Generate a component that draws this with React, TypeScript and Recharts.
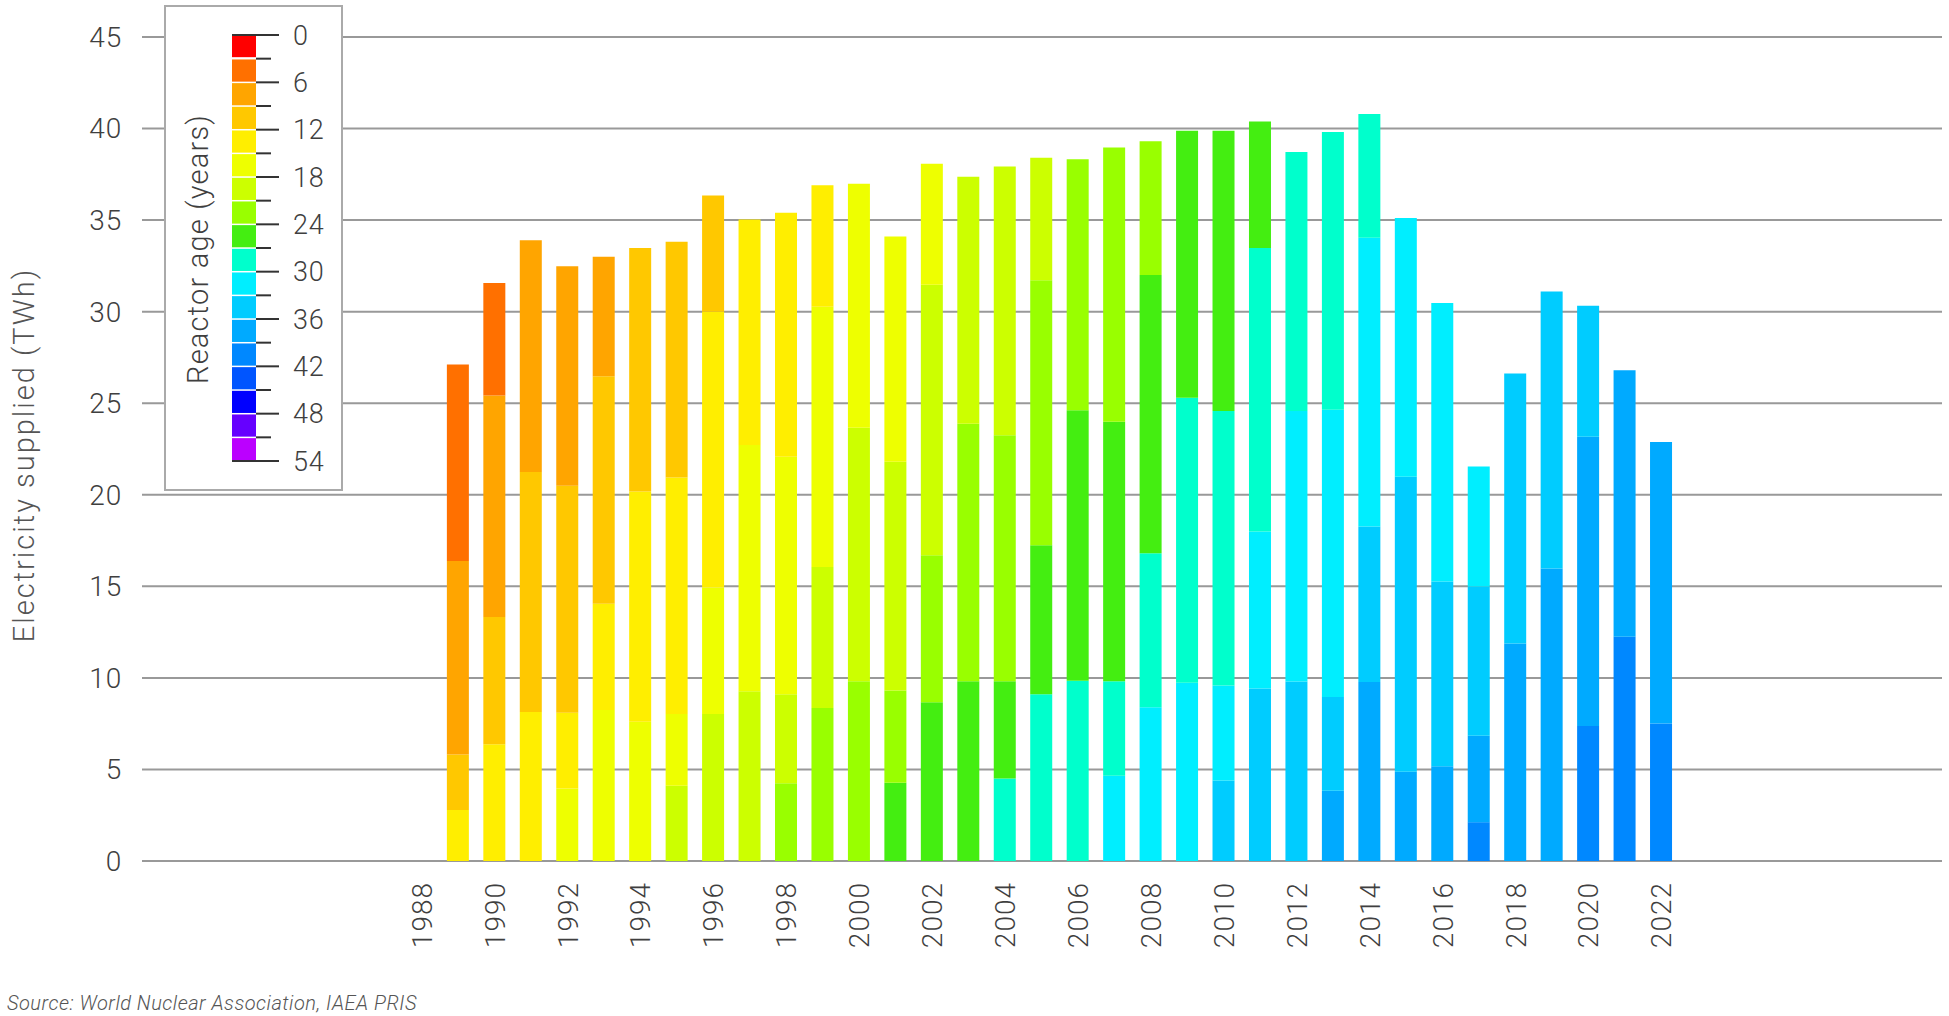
import React from "react"
import { BarChart, Bar, XAxis, YAxis, CartesianGrid } from "recharts"

// Years with a bar (1989–2022)
const years = [
  1989, 1990, 1991, 1992, 1993, 1994, 1995, 1996, 1997, 1998,
  1999, 2000, 2001, 2002, 2003, 2004, 2005, 2006, 2007, 2008,
  2009, 2010, 2011, 2012, 2013, 2014, 2015, 2016, 2017, 2018,
  2019, 2020, 2021, 2022,
]

// Reactor age bins (years) and their colours
const ageBins = [
  "0-3", "3-6", "6-9", "9-12", "12-15", "15-18", "18-21", "21-24", "24-27",
  "27-30", "30-33", "33-36", "36-39", "39-42", "42-45", "45-48", "48-51", "51-54",
]
const binColors = [
  "#ff0000", "#ff7000", "#ffa500", "#ffc800", "#ffee00", "#eeff00", "#ccff00", "#99ff00", "#44ee11",
  "#00ffcc", "#00eeff", "#00ccff", "#00aaff", "#0088ff", "#0055ff", "#0000ff", "#6600ff", "#bb00ff",
]
const colorbarLabels = [0, 6, 12, 18, 24, 30, 36, 42, 48, 54]

// TWh supplied per age bin, one value per year in `years`
const z10 = [0, 0, 0, 0, 0, 0, 0, 0, 0, 0]
const age0to3 = [...z10, ...z10, ...z10, 0, 0, 0, 0]
const age3to6 = [10.74, 6.14, 0, 0, 0, 0, 0, 0, 0, 0, ...z10, ...z10, 0, 0, 0, 0]
const age6to9 = [10.56, 12.1, 12.66, 11.99, 6.53, 0, 0, 0, 0, 0, ...z10, ...z10, 0, 0, 0, 0]
const age9to12 = [3.04, 6.94, 13.1, 12.4, 12.42, 13.3, 12.88, 6.34, 0, 0, ...z10, ...z10, 0, 0, 0, 0]
const age12to15 = [
  2.78, 6.38, 8.14, 4.13, 5.81, 12.58, 12.91, 15.07, 12.32, 13.33,
  6.63, 0, 0, 0, 0, 0, 0, 0, 0, 0,
  ...z10, 0, 0, 0, 0,
]
const age15to18 = [
  0, 0, 0, 3.96, 8.24, 7.6, 3.92, 6.9, 13.45, 12.97,
  14.21, 13.33, 12.3, 6.61, 0, 0, 0, 0, 0, 0,
  ...z10, 0, 0, 0, 0,
]
const age18to21 = [
  0, 0, 0, 0, 0, 0, 4.11, 8.03, 9.27, 4.86,
  7.71, 13.85, 12.49, 14.77, 13.49, 14.68, 6.69, 0, 0, 0,
  ...z10, 0, 0, 0, 0,
]
const age21to24 = [
  0, 0, 0, 0, 0, 0, 0, 0, 0, 4.24,
  8.35, 9.81, 5.03, 8.03, 14.07, 13.44, 14.48, 13.7, 14.98, 7.3,
  ...z10, 0, 0, 0, 0,
]
const age24to27 = [
  ...z10,
  0, 0, 4.28, 8.67, 9.81, 5.31, 8.14, 14.77, 14.18, 15.19,
  14.58, 15.31, 6.9, 0, 0, 0, 0, 0, 0, 0,
  0, 0, 0, 0,
]
const age27to30 = [
  ...z10,
  0, 0, 0, 0, 0, 4.5, 9.1, 9.85, 5.16, 8.42,
  15.56, 14.98, 15.49, 14.15, 15.16, 6.77, 0, 0, 0, 0,
  0, 0, 0, 0,
]
const age30to33 = [
  ...z10,
  0, 0, 0, 0, 0, 0, 0, 0, 4.65, 8.39,
  9.74, 5.2, 8.57, 14.77, 15.69, 15.76, 14.14, 15.2, 6.55, 0,
  0, 0, 0, 0,
]
const age33to36 = [
  ...z10, ...z10,
  0, 4.39, 9.42, 9.8, 5.12, 8.5, 16.11, 10.09, 8.15, 14.74,
  15.13, 7.15, 0, 0,
]
const age36to39 = [
  ...z10, ...z10,
  0, 0, 0, 0, 3.84, 9.77, 4.87, 5.18, 4.72, 11.88,
  15.97, 15.8, 14.56, 15.37,
]
const age39to42 = [
  ...z10, ...z10,
  0, 0, 0, 0, 0, 0, 0, 0, 2.12, 0,
  0, 7.37, 12.24, 7.51,
]
const age42to45 = [...z10, ...z10, ...z10, 0, 0, 0, 0]
const age45to48 = [...z10, ...z10, ...z10, 0, 0, 0, 0]
const age48to51 = [...z10, ...z10, ...z10, 0, 0, 0, 0]
const age51to54 = [...z10, ...z10, ...z10, 0, 0, 0, 0]

const binSeries = [
  age0to3, age3to6, age6to9, age9to12, age12to15, age15to18, age18to21, age21to24, age24to27,
  age27to30, age30to33, age33to36, age36to39, age39to42, age42to45, age45to48, age48to51, age51to54,
]

const yTicks = [0, 5, 10, 15, 20, 25, 30, 35, 40, 45]
const xTicks = [
  1988, 1990, 1992, 1994, 1996, 1998, 2000, 2002, 2004, 2006, 2008, 2010,
  2012, 2014, 2016, 2018, 2020, 2022,
]

const data = years.map((year, i) => {
  const row: Record<string, number> = { year }
  binSeries.forEach((s, b) => {
    row["b" + b] = s[i]
  })
  return row
})

const FONT = "Roboto, 'Liberation Sans', sans-serif"
const TEXT = "#3f3f3f"

const XTick = ({ x, y, payload }: any) => (
  <text
    x={x}
    y={y}
    transform={`rotate(-90 ${x} ${y})`}
    textAnchor="end"
    dy="0.36em"
    fontSize={28}
    fontWeight={300}
    letterSpacing={1}
    fontFamily={FONT}
    fill={TEXT}
  >
    {payload.value}
  </text>
)

// colour bar legend for reactor age
function ColorBar() {
  const top = 35
  const cell = (461 - 35) / ageBins.length
  return (
    <g>
      <rect x={165} y={6} width={177} height={484} fill="#fff" stroke="#aaa" strokeWidth={2} />
      <text
        x={208}
        y={249}
        transform="rotate(-90 208 249)"
        textAnchor="middle"
        fontSize={29}
        fontWeight={300}
        letterSpacing={1.2}
        fontFamily={FONT}
        fill={TEXT}
      >
        Reactor age (years)
      </text>
      {binColors.map((c, i) => (
        <rect key={c} x={232} y={top + i * cell + (i === 0 ? 0 : 0.8)} width={24} height={cell - 1.5} fill={c} />
      ))}
      {ageBins.map((_, i) => {
        const yy = top + i * cell
        const long = i % 2 === 0
        return <line key={i} x1={256} x2={long ? 279 : 271} y1={yy} y2={yy} stroke="#333" strokeWidth={2} />
      })}
      <line x1={232} x2={279} y1={top} y2={top} stroke="#333" strokeWidth={2} />
      <line x1={232} x2={279} y1={461} y2={461} stroke="#333" strokeWidth={2} />
      {colorbarLabels.map((v, i) => (
        <text
          key={v}
          x={293}
          y={top + i * 2 * cell}
          dy="0.36em"
          fontSize={27}
          fontWeight={300}
          letterSpacing={0.8}
          fontFamily={FONT}
          fill={TEXT}
        >
          {v}
        </text>
      ))}
    </g>
  )
}

export default function App() {
  return (
    <div style={{ position: "absolute", left: 0, top: 0, width: 1949, height: 1016, background: "#fff" }}>
      <BarChart width={1949} height={1016} data={data} margin={{ top: 37, right: 7, bottom: 0, left: 0 }}>
        <CartesianGrid vertical={false} stroke="#999" strokeWidth={2} />
        <XAxis
          dataKey="year"
          type="number"
          domain={[1980.33, 2029.7]}
          ticks={xTicks}
          allowDataOverflow
          height={155}
          axisLine={false}
          tickLine={false}
          tickSize={0}
          tickMargin={21}
          interval={0}
          tick={<XTick />}
        />
        <YAxis
          type="number"
          domain={[0, 45]}
          ticks={yTicks}
          width={142}
          axisLine={false}
          tickLine={false}
          tickSize={0}
          tickMargin={20}
          tick={{ fontSize: 28, fontWeight: 300, fontFamily: FONT, fill: TEXT, letterSpacing: 0.8 }}
          label={{
            content: () => (
              <text
                x={34}
                y={455}
                transform="rotate(-90 34 455)"
                textAnchor="middle"
                fontSize={29}
                fontWeight={300}
                letterSpacing={2}
                fontFamily={FONT}
                fill="#555"
              >
                Electricity supplied (TWh)
              </text>
            ),
          }}
        />
        {binColors
          .map((c, b) => (
            <Bar
              key={b}
              dataKey={"b" + b}
              name={ageBins[b]}
              stackId="age"
              fill={c}
              barSize={22}
              isAnimationActive={false}
            />
          ))
          .reverse()}
      </BarChart>
      <svg width={1949} height={1016} style={{ position: "absolute", left: 0, top: 0, pointerEvents: "none" }}>
        <ColorBar />
        <text
          x={7}
          y={1010}
          fontSize={20}
          fontStyle="italic"
          fontWeight={300}
          letterSpacing={0.5}
          fontFamily={FONT}
          fill="#555"
        >
          Source: World Nuclear Association, IAEA PRIS
        </text>
      </svg>
    </div>
  )
}
